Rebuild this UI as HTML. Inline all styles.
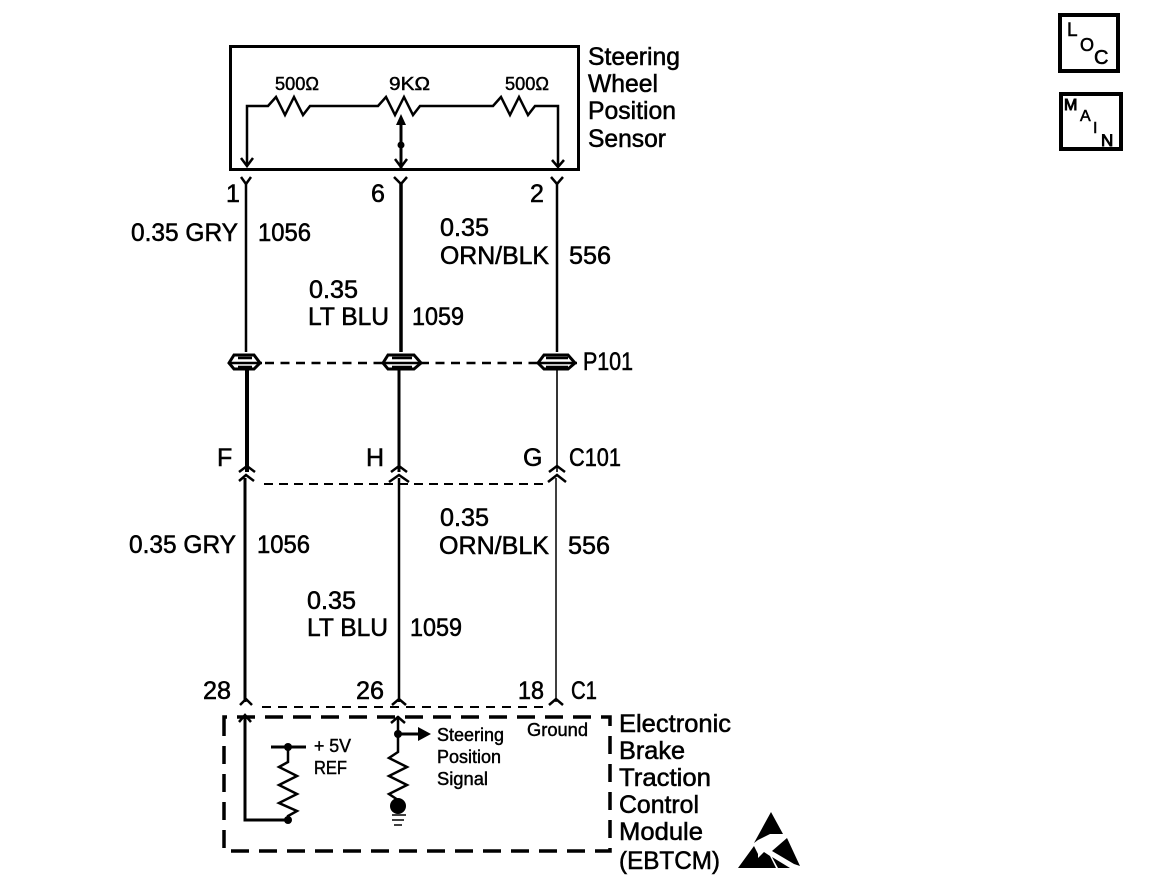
<!DOCTYPE html>
<html><head><meta charset="utf-8"><style>
html,body{margin:0;padding:0;background:#fff}
svg{display:block}
text{font-family:"Liberation Sans",sans-serif;fill:#000;stroke:#000;stroke-width:.55px}
.l{font-size:25px}
.s{font-size:18px;stroke-width:.45px}
</style></head><body>
<svg width="1152" height="894" viewBox="0 0 1152 894" xmlns="http://www.w3.org/2000/svg">
<g fill="none" stroke="#000" stroke-width="2.5" stroke-linejoin="miter">
<!-- top sensor box -->
<rect x="230.5" y="46.5" width="348" height="123" stroke-width="3"/>
<!-- resistors -->
<path d="M247 165V106H268l8 -9 9 18 9 -18 9 18 7 -9H378l8 -9 9 18 9 -18 9 18 7 -9H493l8 -9 9 18 9 -18 9 18 7 -9H558V165"/>
<path d="M401 125V168" stroke-width="3"/>
<path d="M241 158l6 8 6 -8M395 159l6 8 6 -8M552 160l6 7 6 -7"/>
<!-- Y terminals -->
<path d="M241 177l5 7 5 -7M394 177l7 7 6 -7M551 177l6 7 6 -7"/>
<!-- wires upper -->
<path d="M246 184V352" stroke-width="2.5"/>
<path d="M401 184V352" stroke-width="3.5"/>
<path d="M557 184V352" stroke-width="2.5"/>
<path d="M247 368V472" stroke-width="4"/>
<path d="M399 368V472" stroke-width="3"/>
<path d="M557 368V472" stroke-width="1.6"/>
<!-- lower -->
<path d="M245 478V702" stroke-width="3"/>
<path d="M399 478V702" stroke-width="2.5"/>
<path d="M556 478V702" stroke-width="1.5"/>
<!-- chevrons -->
<path d="M239 472l8 -6 8 6M239 481l7 -6 8 6M391 472l8 -6 8 6M389 482l10 -7 10 7M549 472l8 -6 8 6M548 482l9 -7 9 7"/>
<path d="M240 705l6 -6 6 6M392 705l7 -6 7 6M549 705l7 -6 7 6"/>
<!-- dashed -->
<path d="M265 363H538" stroke-dasharray="9 6.5" stroke-width="2.5"/>
<path d="M264 484H548" stroke-dasharray="9 6" stroke-width="2"/>
<path d="M262 707H548" stroke-dasharray="9 7" stroke-width="2"/>
<!-- module box -->
<path d="M224 732V717H610V851H224V732" stroke-dasharray="18 10" stroke-width="3.5"/>
<!-- module inner left -->
<path d="M245 716V820H288" stroke-width="3"/>
<path d="M239 722l6 -7 6 7"/>
<path d="M271 747H306" stroke-width="3"/>
<path d="M288 747V762l-9 5 18 9 -18 9 18 9 -18 9 18 8 -9 5V820" stroke-width="2.5"/>
<!-- module inner right -->
<path d="M398 716V752l-9 6 18 9 -18 9 18 9 -18 9 9 6V808" stroke-width="2.5"/>
<path d="M391 723l7 -6 7 6"/>
<path d="M398 734H420" stroke-width="3"/>
<path d="M392 815H406M392 820H404M394 825H402" stroke-width="1.5"/>
</g>
<!-- arrow on wiper and dots -->
<path d="M401 114l-5 11h10z"/>
<circle cx="401" cy="145" r="3.5"/>
<path d="M418 727l13 7 -13 7z"/>
<circle cx="398" cy="734" r="4"/>
<circle cx="288" cy="747" r="4"/>
<circle cx="288" cy="820" r="4"/>
<circle cx="398" cy="806" r="8"/>
<!-- P101 splices -->
<g fill="#fff" stroke="#000">
<path d="M229 363l5 -8h20l6 8 -6 6h-20z" stroke-width="3"/>
<path d="M228 363H262" stroke-width="2.5"/>
<path d="M238 358h14M238 367h14" stroke-width="2.5"/>
<path d="M383 363l5 -8h26l7 8 -7 6h-26z" stroke-width="3"/>
<path d="M382 363H422M392 358H412M392 367H412" stroke-width="2.5"/>
<path d="M538 363l6 -8h24l7 8 -7 6h-24z" stroke-width="3"/>
<path d="M537 363H577M546 358H568M546 367H568" stroke-width="2.5"/>
</g>
<!-- text -->
<text class="l" x="588" y="65" textLength="92" lengthAdjust="spacingAndGlyphs">Steering</text>
<text class="l" x="588" y="92" textLength="70" lengthAdjust="spacingAndGlyphs">Wheel</text>
<text class="l" x="588" y="119" textLength="88" lengthAdjust="spacingAndGlyphs">Position</text>
<text class="l" x="588" y="147" textLength="78" lengthAdjust="spacingAndGlyphs">Sensor</text>
<text class="l" x="226" y="202">1</text>
<text class="l" x="371" y="202">6</text>
<text class="l" x="530" y="202">2</text>
<text class="l" x="131" y="241" textLength="107" lengthAdjust="spacingAndGlyphs">0.35 GRY</text>
<text class="l" x="258" y="241" textLength="53" lengthAdjust="spacingAndGlyphs">1056</text>
<text class="l" x="440" y="236" textLength="49" lengthAdjust="spacingAndGlyphs">0.35</text>
<text class="l" x="440" y="264" textLength="109" lengthAdjust="spacingAndGlyphs">ORN/BLK</text>
<text class="l" x="569" y="264" textLength="42" lengthAdjust="spacingAndGlyphs">556</text>
<text class="l" x="309" y="298" textLength="49" lengthAdjust="spacingAndGlyphs">0.35</text>
<text class="l" x="308" y="325" textLength="81" lengthAdjust="spacingAndGlyphs">LT BLU</text>
<text class="l" x="412" y="325" textLength="52" lengthAdjust="spacingAndGlyphs">1059</text>
<text class="l" x="583" y="370" textLength="50" lengthAdjust="spacingAndGlyphs">P101</text>
<text class="l" x="217" y="466">F</text>
<text class="l" x="366" y="466">H</text>
<text class="l" x="523" y="466">G</text>
<text class="l" x="569" y="466" textLength="52" lengthAdjust="spacingAndGlyphs">C101</text>
<text class="l" x="129" y="553" textLength="107" lengthAdjust="spacingAndGlyphs">0.35 GRY</text>
<text class="l" x="257" y="553" textLength="53" lengthAdjust="spacingAndGlyphs">1056</text>
<text class="l" x="440" y="526" textLength="49" lengthAdjust="spacingAndGlyphs">0.35</text>
<text class="l" x="439" y="554" textLength="110" lengthAdjust="spacingAndGlyphs">ORN/BLK</text>
<text class="l" x="568" y="554" textLength="42" lengthAdjust="spacingAndGlyphs">556</text>
<text class="l" x="307" y="609" textLength="49" lengthAdjust="spacingAndGlyphs">0.35</text>
<text class="l" x="307" y="636" textLength="81" lengthAdjust="spacingAndGlyphs">LT BLU</text>
<text class="l" x="410" y="636" textLength="52" lengthAdjust="spacingAndGlyphs">1059</text>
<text class="l" x="203" y="699" textLength="28" lengthAdjust="spacingAndGlyphs">28</text>
<text class="l" x="356" y="699" textLength="28" lengthAdjust="spacingAndGlyphs">26</text>
<text class="l" x="518" y="699" textLength="26" lengthAdjust="spacingAndGlyphs">18</text>
<text class="l" x="571" y="699" textLength="26" lengthAdjust="spacingAndGlyphs">C1</text>
<text class="l" x="619" y="732" textLength="112" lengthAdjust="spacingAndGlyphs">Electronic</text>
<text class="l" x="619" y="759" textLength="66" lengthAdjust="spacingAndGlyphs">Brake</text>
<text class="l" x="619" y="786" textLength="92" lengthAdjust="spacingAndGlyphs">Traction</text>
<text class="l" x="619" y="813" textLength="80" lengthAdjust="spacingAndGlyphs">Control</text>
<text class="l" x="619" y="840" textLength="84" lengthAdjust="spacingAndGlyphs">Module</text>
<text class="l" x="619" y="869" textLength="101" lengthAdjust="spacingAndGlyphs">(EBTCM)</text>
<text class="s" x="275" y="90" textLength="44" lengthAdjust="spacingAndGlyphs">500Ω</text>
<text class="s" x="389" y="90" textLength="41" lengthAdjust="spacingAndGlyphs">9KΩ</text>
<text class="s" x="505" y="90" textLength="44" lengthAdjust="spacingAndGlyphs">500Ω</text>
<text class="s" x="437" y="741" textLength="67" lengthAdjust="spacingAndGlyphs">Steering</text>
<text class="s" x="437" y="763" textLength="64" lengthAdjust="spacingAndGlyphs">Position</text>
<text class="s" x="437" y="785" textLength="51" lengthAdjust="spacingAndGlyphs">Signal</text>
<text class="s" x="527" y="736" textLength="61" lengthAdjust="spacingAndGlyphs">Ground</text>
<text class="s" x="314" y="752" textLength="37" lengthAdjust="spacingAndGlyphs">+ 5V</text>
<text class="s" x="314" y="774" textLength="33" lengthAdjust="spacingAndGlyphs">REF</text>
<!-- LOC / MAIN -->
<rect x="1060" y="15" width="58" height="56" fill="none" stroke="#000" stroke-width="4"/>
<text x="1067" y="36" style="font-size:19px">L</text>
<text x="1080" y="51" style="font-size:18px">O</text>
<text x="1094" y="64" style="font-size:20px">C</text>
<rect x="1061" y="94" width="60" height="55" fill="none" stroke="#000" stroke-width="4"/>
<text x="1064" y="110" style="font-size:16px;stroke-width:1px">M</text>
<text x="1080" y="121" style="font-size:16px">A</text>
<text x="1093" y="133" style="font-size:16px">I</text>
<text x="1101" y="146" style="font-size:17px;stroke-width:.9px">N</text>
<!-- ESD triangle -->
<path d="M771 812L783 834 770 834 758 840 754 843z"/>
<path d="M738 868L754 846 758 854 758 858 764 852 770 856 776 868z"/>
<path d="M787 838L800 866 794 864 772 851z"/>
<path d="M772 857L790 868 778 868z"/>
</svg>
</body></html>
